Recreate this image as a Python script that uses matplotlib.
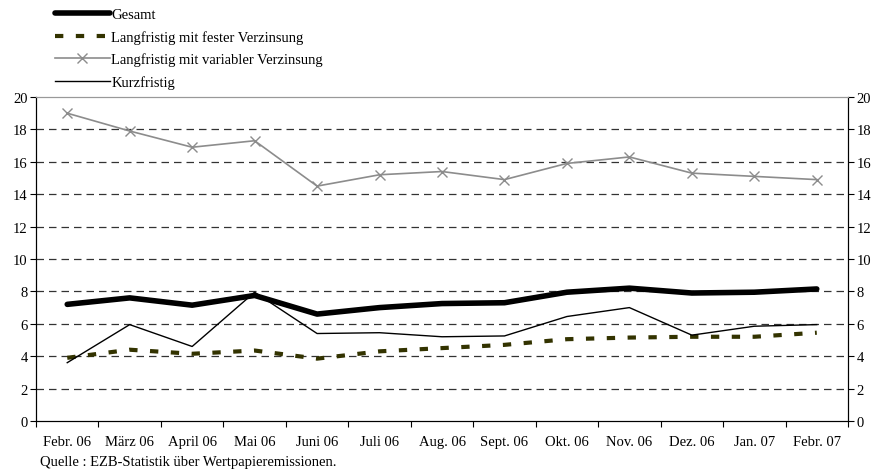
import matplotlib
matplotlib.use("Agg")
import matplotlib.pyplot as plt
import numpy as np

plt.rcParams['font.family'] = ['Liberation Serif', 'DejaVu Serif']
plt.rcParams['font.size'] = 10.5

# Data
monate = ['Febr. 06', 'März 06', 'April 06', 'Mai 06', 'Juni 06', 'Juli 06', 'Aug. 06',
          'Sept. 06', 'Okt. 06', 'Nov. 06', 'Dez. 06', 'Jan. 07', 'Febr. 07']
gesamt = [7.2, 7.6, 7.15, 7.75, 6.6, 7.0, 7.25, 7.3, 7.95, 8.2, 7.9, 7.95, 8.15]
fest = [3.9, 4.4, 4.15, 4.35, 3.85, 4.3, 4.5, 4.7, 5.05, 5.15, 5.2, 5.2, 5.45]
variabel = [19.0, 17.9, 16.9, 17.3, 14.5, 15.2, 15.4, 14.9, 15.9, 16.3, 15.3, 15.1, 14.9]
kurz = [3.6, 5.95, 4.6, 7.95, 5.4, 5.45, 5.2, 5.25, 6.45, 7.0, 5.3, 5.85, 5.95]
y_ticks = [0, 2, 4, 6, 8, 10, 12, 14, 16, 18, 20]

x = np.arange(len(monate))

fig = plt.figure(figsize=(8.76, 4.77), dpi=100)
ax = fig.add_axes([36/876, 1-422/477, (848-36)/876, (422-98)/477])

for v in y_ticks[1:-1]:
    ax.axhline(v, color='#333333', lw=0.9, ls=(0, (6, 4)), zorder=1)

l1, = ax.plot(x, gesamt, color='black', lw=4, solid_capstyle='round', zorder=4, label='Gesamt')
l2, = ax.plot(x, fest, color='#333300', lw=3, ls=(0, (2, 3)), zorder=3,
              label='Langfristig mit fester Verzinsung')
l3, = ax.plot(x, variabel, color='#8c8c8c', lw=1.2, marker='x', ms=7, mew=1, zorder=3,
              label='Langfristig mit variabler Verzinsung')
l4, = ax.plot(x, kurz, color='black', lw=1, zorder=3, label='Kurzfristig')

ax.set_xlim(-0.5, len(monate) - 0.5)
ax.set_ylim(0, 20)
ax.set_yticks(y_ticks)
ax.set_xticks(np.arange(len(monate) + 1) - 0.5)
ax.set_xticklabels([])
ax.set_xticks(x, minor=True)
ax.set_xticklabels(monate, minor=True)
ax.tick_params(axis='x', which='minor', length=0, pad=10)
ax.tick_params(axis='x', which='major', length=4, direction='out', width=0.8)
ax.tick_params(axis='y', length=4, direction='out', width=0.8, pad=2)

ax2 = ax.twinx()
ax2.set_ylim(0, 20)
ax2.set_yticks(y_ticks)
ax2.tick_params(axis='y', length=4, direction='out', width=0.8, pad=2)

for a in (ax, ax2):
    a.spines['top'].set_color('#999999')
    a.spines['left'].set_linewidth(0.8)
    a.spines['right'].set_linewidth(0.8)
    a.spines['bottom'].set_linewidth(0.8)

fig.legend(handles=[l1, l2, l3, l4], loc='upper left', bbox_to_anchor=(55/876, 1-9/477),
           frameon=False, handlelength=3.75, handletextpad=0.1, labelspacing=0.6,
           borderaxespad=0, borderpad=0)

fig.text(40/876, 1-463/477, 'Quelle : EZB-Statistik über Wertpapieremissionen.',
         fontsize=10.5, va='center', ha='left')

fig.savefig('out.png', dpi=100)
